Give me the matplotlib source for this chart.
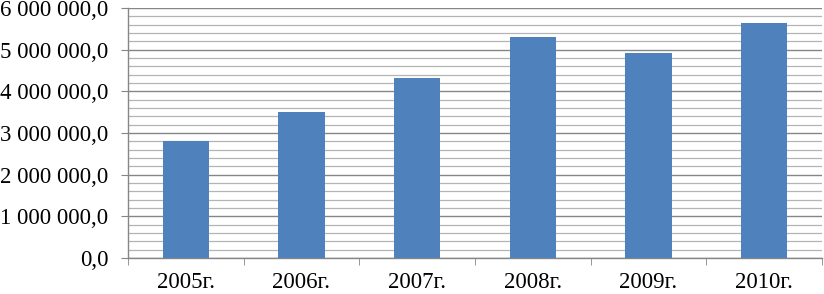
import matplotlib
matplotlib.use("Agg")
import matplotlib.pyplot as plt
from matplotlib.ticker import MultipleLocator, FuncFormatter, FixedLocator

categories = ["2005г.", "2006г.", "2007г.", "2008г.", "2009г.", "2010г."]
values = [2800000, 3505000, 4320000, 5310000, 4910000, 5648000]

plt.rcParams['font.family'] = ['Liberation Serif', 'DejaVu Serif']

fig = plt.figure(figsize=(8.24, 2.94), dpi=100)
ax = fig.add_axes([128/824, 1-258/294, (822-128)/824, 250/294])

x = list(range(len(categories)))
ax.bar(x, values, width=0.4, color='#4F81BD', zorder=3)

ax.set_xlim(-0.5, len(categories) - 0.5)
ax.set_ylim(0, 6000000)

ax.yaxis.set_major_locator(MultipleLocator(1000000))
ax.yaxis.set_minor_locator(MultipleLocator(200000))

def fmt(v, pos):
    s = f"{int(round(v)):,}".replace(",", " ")
    return s + ",0"
ax.yaxis.set_major_formatter(FuncFormatter(fmt))

ax.set_xticks(x)
ax.set_xticklabels(categories)
ax.xaxis.set_minor_locator(FixedLocator([i - 0.5 for i in range(len(categories) + 1)]))
ax.tick_params(axis='x', which='major', length=0, pad=10, labelsize=16.5)
ax.tick_params(axis='x', which='minor', length=5, color='#868686', direction='out')
ax.tick_params(axis='y', which='major', length=5, color='#868686', labelsize=16.5, pad=9)
ax.tick_params(axis='y', which='minor', length=0)

ax.grid(axis='y', which='major', color='#868686', linewidth=1.0, zorder=0)
ax.grid(axis='y', which='minor', color='#b4b4b4', linewidth=0.9, zorder=0)

for s in ['top', 'right']:
    ax.spines[s].set_visible(False)
for s in ['left', 'bottom']:
    ax.spines[s].set_color('#868686')
    ax.spines[s].set_linewidth(1.0)

fig.savefig("out.png", dpi=100)
